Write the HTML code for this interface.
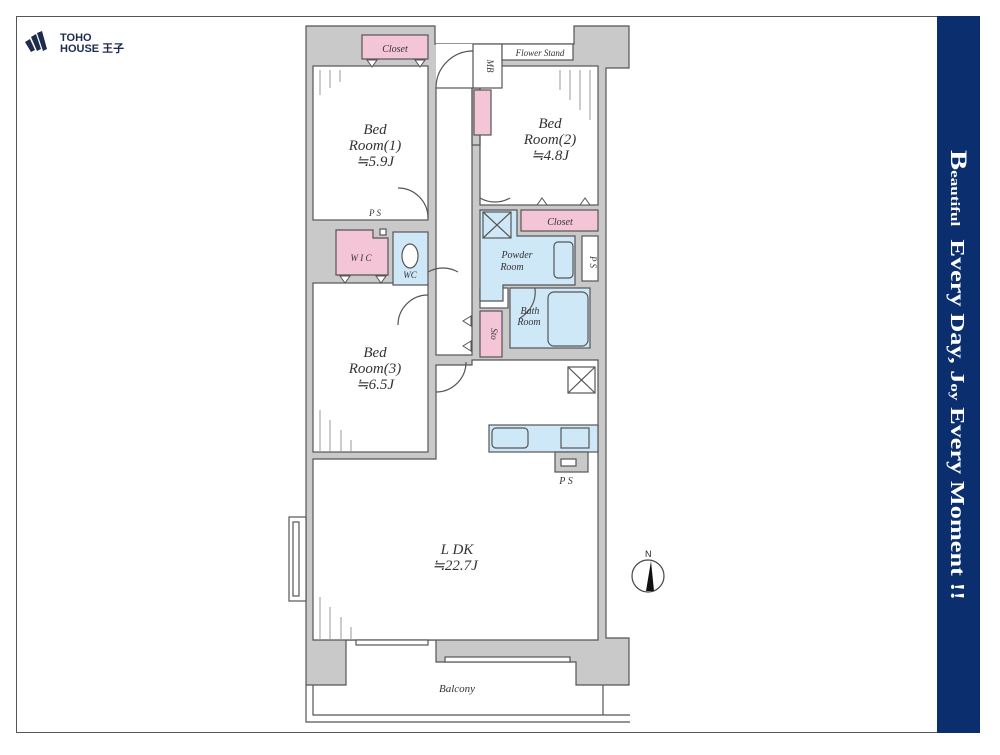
<!DOCTYPE html>
<html><head><meta charset="utf-8"><style>
html,body{margin:0;padding:0;background:#fff;}
body{width:1000px;height:750px;position:relative;overflow:hidden;font-family:"Liberation Serif",serif;}
</style></head><body>
<svg width="1000" height="750" viewBox="0 0 1000 750" xmlns="http://www.w3.org/2000/svg">
<rect x="16.5" y="16.5" width="921" height="716" fill="#fff" stroke="#555" stroke-width="1"/>
<rect x="937" y="16" width="43" height="717" fill="#0b2f6e"/>
<text transform="translate(951,150) rotate(90)" fill="#fff" font-family="Liberation Serif,serif" font-weight="bold" font-size="20" textLength="450" lengthAdjust="spacingAndGlyphs"><tspan font-size="23">B</tspan><tspan font-size="13">eautiful</tspan><tspan dx="10">Every Day, J</tspan><tspan font-size="13">oy</tspan><tspan> Every Moment !!</tspan></text>
<!-- logo -->
<g fill="#1c2c4c">
<path d="M25 42 l5-3 l5 11 l-4 2z"/><path d="M31 37 l5-3 l5 15 l-4 2z"/><path d="M37 33 l5-2 l5 18 l-4 2z"/>
</g>
<text x="60" y="41" font-family="Liberation Sans,sans-serif" font-weight="bold" font-size="11" fill="#1c2c4c">TOHO</text>
<text x="60" y="52" font-family="Liberation Sans,'Noto Sans CJK JP',sans-serif" font-weight="bold" font-size="11" fill="#1c2c4c">HOUSE 王子</text>

<g stroke="#555" stroke-width="1.2">
<path d="M306 26 H435 V44 H574 V26 H629 V68 H606 V638 H629 V685 H576 V662 H436 V640 H346 V685 H306 Z" fill="#c9c9c9"/>
<rect x="436" y="44" width="37" height="44" fill="#fff" stroke="none"/>
<rect x="313" y="66" width="115" height="154" fill="#fff"/>
<rect x="436" y="88" width="36" height="267" fill="#fff"/>
<rect x="480" y="66" width="118" height="139" fill="#fff"/>
<path d="M472 88 V145 H480 V66" fill="none"/>
<rect x="313" y="283" width="115" height="169" fill="#fff"/>
<path d="M313 459 H436 V365 H472 V360 H598 V640 H313 Z" fill="#fff"/>
<rect x="480" y="288" width="28" height="20" fill="#fff"/>
<rect x="362" y="35" width="66" height="24" fill="#f4c5d6"/>
<rect x="473" y="44" width="29" height="44" fill="#fff"/>
<rect x="502" y="44" width="71" height="16" fill="#fff"/>
<rect x="474" y="90" width="17" height="45" fill="#f4c5d6"/>
<path d="M336 230 H373 V238 H388 V275 H336 Z" fill="#f4c5d6"/>
<rect x="380" y="229" width="6" height="6" fill="#fff"/>
<rect x="393" y="232" width="35" height="53" fill="#cfe8f7"/>
<ellipse cx="410" cy="256" rx="8" ry="12" fill="#fff"/>
<path d="M480 210 H517 V236 H575 V285 H503 V301 H480 Z" fill="#cfe8f7"/>
<rect x="483" y="212" width="28" height="26" fill="#cfe8f7"/>
<line x1="483" y1="212" x2="511" y2="238"/><line x1="511" y1="212" x2="483" y2="238"/>
<rect x="554" y="242" width="19" height="36" rx="4" fill="#cfe8f7"/>
<rect x="521" y="210" width="77" height="21" fill="#f4c5d6"/>
<rect x="582" y="236" width="16" height="45" fill="#fff"/>
<rect x="510" y="288" width="80" height="60" fill="#cfe8f7"/>
<rect x="548" y="292" width="40" height="54" rx="6" fill="#cfe8f7"/>
<rect x="480" y="311" width="22" height="46" fill="#f4c5d6"/>
<rect x="568" y="367" width="27" height="26" fill="#fff"/>
<line x1="568" y1="367" x2="595" y2="393"/><line x1="595" y1="367" x2="568" y2="393"/>
<rect x="489" y="425" width="109" height="27" fill="#cfe8f7"/>
<rect x="492" y="428" width="36" height="20" rx="4" fill="#cfe8f7"/>
<rect x="561" y="428" width="28" height="20" fill="#cfe8f7"/>
<rect x="555" y="452" width="33" height="20" fill="#c9c9c9"/>
<rect x="561" y="459" width="15" height="7" fill="#fff"/>
<rect x="289" y="517" width="17" height="84" fill="#fff"/>
<rect x="293" y="522" width="6" height="74" fill="#fff"/>
<rect x="356" y="640" width="72" height="5" fill="#fff"/>
<rect x="445" y="657" width="125" height="5" fill="#fff"/>
<path d="M306 685 V722 H630 M313 685 V715 H630 M603 685 V715" fill="none"/>
<path d="M436 88 A37 37 0 0 1 473 51" fill="none"/>
<path d="M428 218 A30 30 0 0 0 398 188" fill="none"/>
<path d="M428 272 A30 30 0 0 1 458 272" fill="none"/>
<path d="M428 295 A30 30 0 0 0 398 325" fill="none"/>
<path d="M480 198 A30 30 0 0 0 510 198" fill="none"/>
<path d="M436 392 A30 30 0 0 0 466 362" fill="none"/>
<path d="M535 288 A30 30 0 0 1 520 318" fill="none"/>
</g>
<g fill="#fff" stroke="#555" stroke-width="1">
<path d="M367 60 l5 7 l5-7z"/><path d="M415 60 l5 7 l5-7z"/>
<path d="M537 205 l5-7 l5 7z"/><path d="M580 205 l5-7 l5 7z"/>
<path d="M340 276 l5 7 l5-7z"/><path d="M376 276 l5 7 l5-7z"/>
<path d="M471 316 l-8 5 l8 5z"/><path d="M471 341 l-8 5 l8 5z"/>
</g>
<g stroke="#999" stroke-width="1">
<line x1="320" y1="70" x2="320" y2="95"/><line x1="330" y1="70" x2="330" y2="88"/><line x1="340" y1="70" x2="340" y2="82"/>
<line x1="320" y1="410" x2="320" y2="452"/><line x1="330" y1="420" x2="330" y2="452"/><line x1="341" y1="430" x2="341" y2="452"/><line x1="351" y1="440" x2="351" y2="452"/>
<line x1="320" y1="597" x2="320" y2="640"/><line x1="330" y1="607" x2="330" y2="640"/><line x1="341" y1="617" x2="341" y2="640"/><line x1="351" y1="627" x2="351" y2="640"/>
<line x1="560" y1="70" x2="560" y2="90"/><line x1="570" y1="70" x2="570" y2="100"/><line x1="580" y1="70" x2="580" y2="110"/><line x1="590" y1="70" x2="590" y2="120"/>
</g>
<circle cx="648" cy="576" r="16" fill="none" stroke="#444" stroke-width="1.2"/>
<path d="M651 561 L646 591 L654 591 Z" fill="#111"/>
<text x="645" y="557" font-family="Liberation Sans,sans-serif" font-size="9" fill="#222">N</text>
<g font-family="Liberation Serif,'Noto Serif CJK SC',serif" font-style="italic" fill="#333" text-anchor="middle">
<text x="395" y="52" font-size="10">Closet</text>
<text x="540" y="56" font-size="9">Flower Stand</text>
<text x="487" y="66" font-size="9" transform="rotate(90 487 66)">MB</text>
<text x="375" y="134" font-size="15">Bed</text><text x="375" y="150" font-size="15">Room(1)</text><text x="375" y="166" font-size="15">≒5.9J</text>
<text x="550" y="128" font-size="15">Bed</text><text x="550" y="144" font-size="15">Room(2)</text><text x="550" y="160" font-size="15">≒4.8J</text>
<text x="560" y="225" font-size="10">Closet</text>
<text x="375" y="216" font-size="9">P S</text>
<text x="361" y="261" font-size="9">W I C</text>
<text x="410" y="278" font-size="9">WC</text>
<text x="517" y="258" font-size="10">Powder</text><text x="512" y="270" font-size="10">Room</text>
<text x="590" y="262" font-size="9" transform="rotate(90 590 262)">P S</text>
<text x="530" y="314" font-size="10">Bath</text><text x="529" y="325" font-size="10">Room</text>
<text x="491" y="334" font-size="9" transform="rotate(90 491 334)">Sto</text>
<text x="375" y="357" font-size="15">Bed</text><text x="375" y="373" font-size="15">Room(3)</text><text x="375" y="389" font-size="15">≒6.5J</text>
<text x="566" y="484" font-size="10">P S</text>
<text x="457" y="554" font-size="15">L DK</text><text x="455" y="570" font-size="15">≒22.7J</text>
<text x="457" y="692" font-size="11">Balcony</text>
</g>
</svg>
</body></html>
